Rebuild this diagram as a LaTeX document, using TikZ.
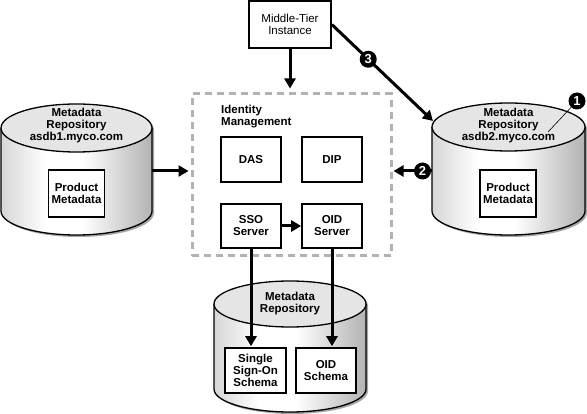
\documentclass[tikz,border=0pt]{standalone}
\usepackage{fontspec}
\setmainfont{Liberation Sans}
\usetikzlibrary{arrows.meta,calc}

\pgfdeclarehorizontalshading{cylshade}{100bp}{color(0bp)=(black!16); color(25bp)=(black!16); color(40bp)=(white); color(52bp)=(white); color(75bp)=(black!30); color(100bp)=(black!30)}

\newcommand\drawcyl[5]{%
  \fill[black!35] (#1-#3+2,#2-2) -- (#1-#3+2,#2-#5-2) arc[start angle=180,end angle=360,x radius=#3,y radius=#4] -- (#1+#3+2,#2-2) arc[start angle=0,end angle=180,x radius=#3,y radius=#4] -- cycle;
  \shade[shading=cylshade] (#1-#3,#2) -- (#1-#3,#2-#5) arc[start angle=180,end angle=360,x radius=#3,y radius=#4] -- (#1+#3,#2) arc[start angle=0,end angle=180,x radius=#3,y radius=#4] -- cycle;
  \draw[line width=1.3pt] (#1-#3,#2) -- (#1-#3,#2-#5) arc[start angle=180,end angle=360,x radius=#3,y radius=#4] -- (#1+#3,#2);
  \draw[line width=1.3pt, fill=black!10] (#1,#2) ellipse[x radius=#3,y radius=#4];
}

\tikzset{
  txt/.style={font=\bfseries\fontsize{11.5}{12}\selectfont, align=center, inner sep=0pt},
  box/.style={draw, line width=1.6pt, fill=white, align=center, inner sep=0pt, font=\bfseries\fontsize{11.5}{12}\selectfont},
  numc/.style={circle, fill=black, text=white, inner sep=0pt, minimum size=17pt, font=\bfseries\fontsize{13}{13}\selectfont},
  arr/.style={line width=3pt, -{Triangle[length=10pt,width=11pt]}},
  dashbox/.style={draw=black!30, line width=3pt, dash pattern=on 7pt off 5pt, inner sep=0pt},
}

\begin{document}
\begin{tikzpicture}[x=1pt,y=1pt]
\useasboundingbox (0,0) rectangle (587,-414);

% cylinders
\drawcyl{76.5}{-128}{75.5}{24}{83}
\drawcyl{508.5}{-127}{76.5}{24}{84}
\drawcyl{290}{-304}{76}{23}{85}

% cylinder labels
\node[txt] (lcyltxt) at (76.5,-126) {Metadata\\Repository\\asdb1.myco.com};
\node[txt] (rcyltxt) at (508.5,-126) {Metadata\\Repository\\asdb2.myco.com};
\node[txt] (bcyltxt) at (290,-304) {Metadata\\Repository};

% connection points on cylinders
\coordinate (lcylE) at (152,-171);
\coordinate (rcylW) at (432,-171);
\coordinate (rcylNW) at (433,-121);
\coordinate (lead1) at (548,-132);

% boxes
\node[box, minimum width=56pt, minimum height=47pt] (lprod) at (76.5,-193.5) {Product\\Metadata};
\node[box, minimum width=56pt, minimum height=47pt] (rprod) at (508,-193.5) {Product\\Metadata};

\node[box, minimum width=82pt, minimum height=47pt, font=\fontsize{11.5}{12}\selectfont] (mt) at (290,-24.5) {Middle-Tier\\Instance};

\node[dashbox, minimum width=199pt, minimum height=162pt] (idm) at (291.5,-175) {};
\node[txt, anchor=west, align=left] (idmlabel) at (221,-116.5) {Identity\\Management};

\node[box, minimum width=60pt, minimum height=45pt] (das) at (251,-159.5) {DAS};
\node[box, minimum width=60pt, minimum height=45pt] (dip) at (332,-159.5) {DIP};
\node[box, minimum width=60pt, minimum height=44pt] (sso) at (251,-226) {SSO\\Server};
\node[box, minimum width=60pt, minimum height=44pt] (oid) at (332,-226) {OID\\Server};

\node[box, minimum width=61pt, minimum height=45pt] (ssos) at (255.5,-370.5) {Single\\Sign-On\\Schema};
\node[box, minimum width=60pt, minimum height=45pt] (oids) at (326,-370.5) {OID\\Schema};

% connectors
\draw[arr, shorten >=4pt] (mt.south) -- (mt.south |- idm.north);
\draw[arr, shorten >=2pt] (lcylE) -- (idm.west |- lcylE);
\draw[arr, shorten >=1pt] (rcylW) -- node[numc, pos=0.24] (n2) {2} (idm.east |- rcylW);
\draw[arr] (mt.east) -- node[numc, pos=0.36] (n3) {3} (rcylNW);
\draw[arr] (sso.east) -- (oid.west);
\draw[arr, shorten >=1pt] (sso.south) -- (sso.south |- ssos.north);
\draw[arr, shorten >=1pt] (oid.south) -- (oid.south |- oids.north);

\node[numc] (n1) at (577,-101) {1};
\draw[line width=0.6pt] (n1) -- (lead1);
\end{tikzpicture}
\end{document}
